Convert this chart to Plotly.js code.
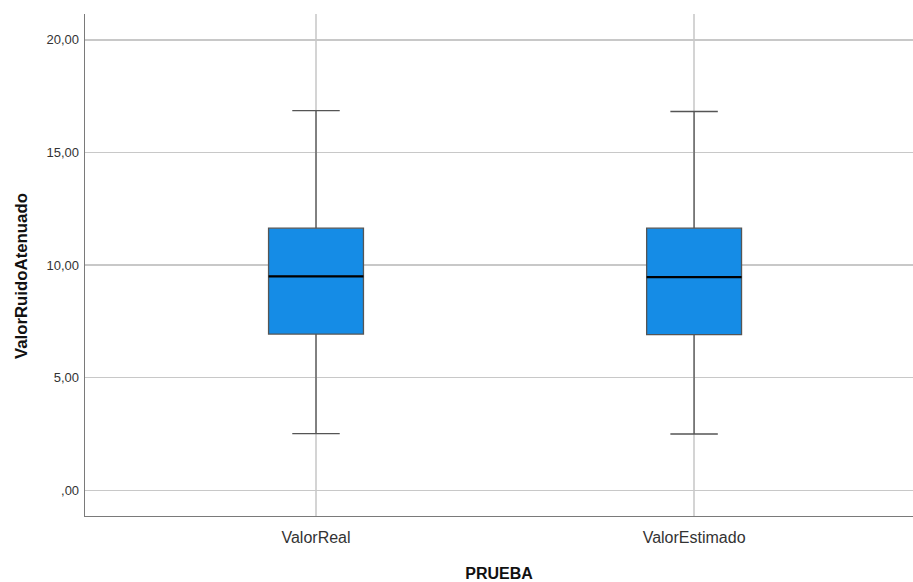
<!DOCTYPE html>
<html><head><meta charset="utf-8">
<script src="https://cdn.plot.ly/plotly-3.0.1.min.js"></script>
<style>html,body{margin:0;padding:0;background:#fff;}#chart{width:913px;height:582px;}</style>
</head><body><div id="chart"></div>
<script>
const categories = ["ValorReal", "ValorEstimado"];
const lowerWhisker = [2.52, 2.50];
const q1 = [6.94, 6.91];
const median = [9.50, 9.47];
const q3 = [11.64, 11.64];
const upperWhisker = [16.86, 16.82];
const yTickVals = [0, 5, 10, 15, 20];
const yTickText = [",00", "5,00", "10,00", "15,00", "20,00"];
const yTitle = "ValorRuidoAtenuado";
const xTitle = "PRUEBA";

const boxWidth = 0.251;
const traces = [];
categories.forEach((c, i) => {
  traces.push({
    type: "box", x: [i], q1: [q1[i]], median: [median[i]], q3: [q3[i]],
    lowerfence: [lowerWhisker[i]], upperfence: [upperWhisker[i]],
    width: boxWidth, whiskerwidth: 0.5, fillcolor: "#158ce6",
    line: {color: "#555555", width: 1.3}, boxpoints: false,
    hoverinfo: "skip", showlegend: false
  });
  traces.push({
    type: "scatter", mode: "lines",
    x: [i - boxWidth / 2, i + boxWidth / 2], y: [median[i], median[i]],
    line: {color: "#000000", width: 2.2}, hoverinfo: "skip", showlegend: false
  });
});

const layout = {
  width: 913, height: 582,
  margin: {l: 85, r: 0, t: 14, b: 66},
  paper_bgcolor: "#fff", plot_bgcolor: "#fff",
  font: {family: "Liberation Sans, Arial, sans-serif", color: "#333"},
  xaxis: {
    range: [-0.611, 1.579], tickvals: [0, 1], ticktext: categories,
    showgrid: true, gridcolor: "#d4d4d4", gridwidth: 1.3,
    zeroline: false, showline: true, linecolor: "#7a7a7a", linewidth: 1.3,
    ticks: "", ticklabelstandoff: 6, tickfont: {size: 16, color: "#333"},
    title: {text: "<b>" + xTitle + "</b>", font: {size: 16, color: "#111"}, standoff: 26}
  },
  yaxis: {
    range: [-1.14, 21.15], tickvals: yTickVals, ticktext: yTickText,
    showgrid: true, gridcolor: "#c8c8c8", gridwidth: 1.3,
    zeroline: false, showline: true, linecolor: "#7a7a7a", linewidth: 1.3,
    ticks: "", ticklabelstandoff: 2, tickfont: {size: 13, color: "#333"},
    title: {text: ""}
  },
  annotations: [{
    text: "<b>" + yTitle + "</b>", xref: "paper", yref: "paper",
    x: 0, y: 0.478, xshift: -64, xanchor: "center", yanchor: "middle",
    textangle: -90, showarrow: false, font: {size: 16.8, color: "#111"}
  }]
};
Plotly.newPlot("chart", traces, layout, {displayModeBar: false, staticPlot: true});
</script></body></html>
